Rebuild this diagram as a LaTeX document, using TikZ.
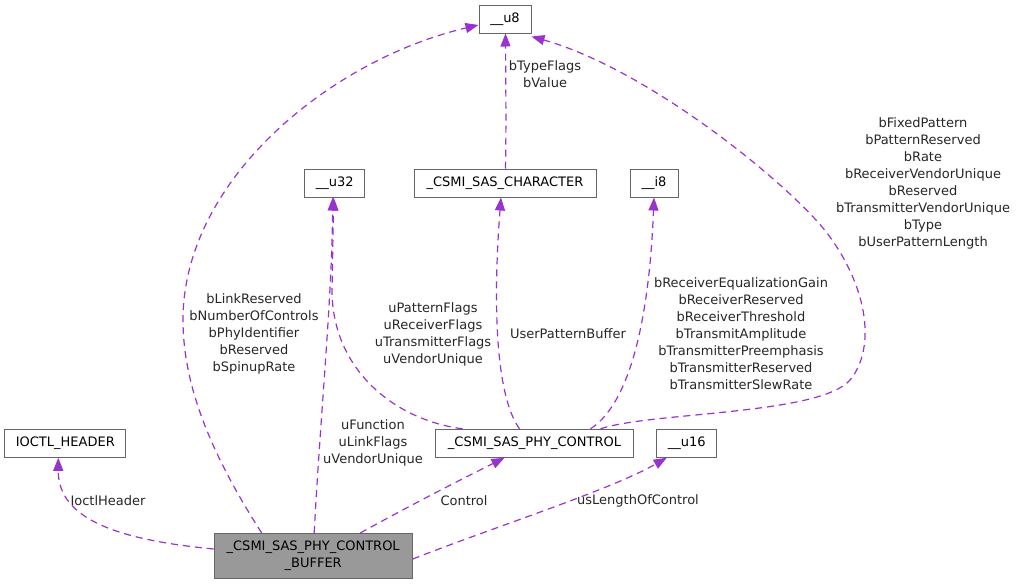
\documentclass[tikz,border=0pt]{standalone}
\usepackage{fontspec}
\setmainfont{DejaVu Sans}
\usetikzlibrary{arrows.meta,calc}
\definecolor{edgec}{HTML}{9A32CD}
\definecolor{boxc}{HTML}{666666}
\definecolor{buffill}{HTML}{999999}
\begin{document}
\begin{tikzpicture}[x=1pt,y=-1pt,
  every node/.style={font=\fontsize{13}{17}\selectfont},
  cls/.style={draw=boxc, line width=1pt, fill=white, minimum height=28pt, inner sep=0pt},
  lbl/.style={align=center, inner sep=0pt, text=black!85},
  rel/.style={color=edgec, line width=1.2pt, dash pattern=on 7pt off 5pt,
    -{Triangle[length=13pt,width=10pt]}}
]
\useasboundingbox (0,0) rectangle (1016,584);

% nodes
\node[cls, minimum width=52pt] (u8) at (505,19) {\_\_u8};
\node[cls, minimum width=60pt] (u32) at (334.7,183) {\_\_u32};
\node[cls, minimum width=182pt] (chr) at (505,183) {\_CSMI\_SAS\_CHARACTER};
\node[cls, minimum width=48pt] (i8) at (654,183) {\_\_i8};
\node[cls, minimum width=121pt] (ioctl) at (65.3,443.3) {IOCTL\_HEADER};
\node[cls, minimum width=197.6pt] (phy) at (534.5,443.3) {\_CSMI\_SAS\_PHY\_CONTROL};
\node[cls, minimum width=60pt] (u16) at (686.7,443.3) {\_\_u16};
\node[cls, fill=buffill, minimum width=198pt, minimum height=45pt, align=center] (buf) at (313.2,556) {\_CSMI\_SAS\_PHY\_CONTROL\\\_BUFFER};

% edges
\draw[rel] ([yshift=7pt]buf.west) .. controls (120,540) and (58,520) .. ([xshift=-7pt]ioctl.south);
\draw[rel] ([xshift=48pt]buf.north west) .. controls (215,460) and (183,390) .. (183,320)
  .. controls (183,180) and (330,60) .. ([yshift=-6pt]u8.west);
\draw[rel] ([xshift=1pt]buf.north) .. controls (320,420) and (332,300) .. ([xshift=-2pt]u32.south);
\draw[rel] ([xshift=-72pt]phy.north) .. controls (395,420) and (332,370) .. (332,290) -- ([xshift=-1pt]u32.south);
\draw[rel] ([xshift=-15pt]phy.north) .. controls (495,395) and (493,300) .. ([xshift=-4pt]chr.south);
\draw[rel] ([xshift=56pt]phy.north) .. controls (635,400) and (650,300) .. (i8.south);
\draw[rel] ([xshift=66pt]phy.north) .. controls (650,412) and (820,415) .. (850,380)
  .. controls (875,350) and (870,290) .. (827,233)
  .. controls (790,185) and (650,70) .. ([yshift=-3pt]u8.south east);
\draw[rel] ([xshift=0.5pt]chr.north) .. controls ($(chr.north)!0.33!(u8.south)+(1.3,0)$) and ($(chr.north)!0.66!(u8.south)+(0.7,0)$) .. ([xshift=0.5pt]u8.south);
\draw[rel] ([xshift=47pt]buf.north) .. controls (420,500) and (470,475) .. ([xshift=-30pt]phy.south);
\draw[rel] ([yshift=-3pt]buf.east) .. controls (500,525) and (610,490) .. ([xshift=-20pt]u16.south);

% labels
\node[lbl] (l1) at (108,501) {IoctlHeader};
\node[lbl] (l2) at (254,334) {bLinkReserved\\bNumberOfControls\\bPhyIdentifier\\bReserved\\bSpinupRate};
\node[lbl] (l3) at (373,443) {uFunction\\uLinkFlags\\uVendorUnique};
\node[lbl] (l4) at (433,334.5) {uPatternFlags\\uReceiverFlags\\uTransmitterFlags\\uVendorUnique};
\node[lbl] (l5) at (568,334) {UserPatternBuffer};
\node[lbl] (l6) at (741,334) {bReceiverEqualizationGain\\bReceiverReserved\\bReceiverThreshold\\bTransmitAmplitude\\bTransmitterPreemphasis\\bTransmitterReserved\\bTransmitterSlewRate};
\node[lbl] (l7) at (923,183) {bFixedPattern\\bPatternReserved\\bRate\\bReceiverVendorUnique\\bReserved\\bTransmitterVendorUnique\\bType\\bUserPatternLength};
\node[lbl] (l8) at (545,74) {bTypeFlags\\bValue};
\node[lbl] (l9) at (464,501) {Control};
\node[lbl] (l10) at (638,501) {usLengthOfControl};
\end{tikzpicture}
\end{document}
